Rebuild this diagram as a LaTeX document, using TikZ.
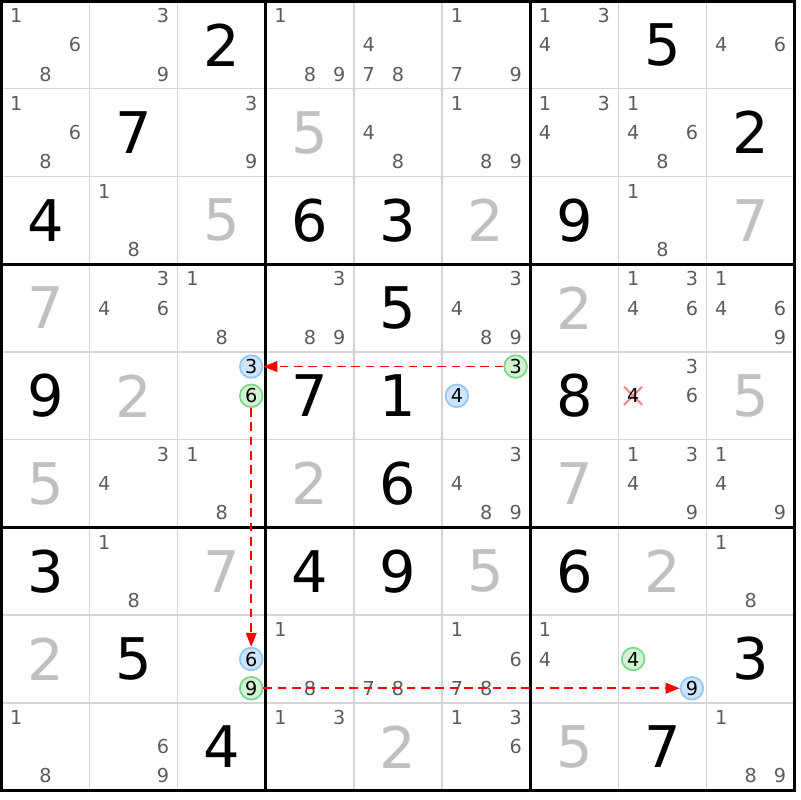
\documentclass[tikz,border=0pt]{standalone}
\usepackage{fontspec}
\setmainfont{DejaVu Sans}
\usetikzlibrary{arrows.meta,shapes.misc}
\definecolor{gridgray}{RGB}{212,212,212}
\definecolor{solvedgray}{RGB}{192,192,192}
\definecolor{candgray}{RGB}{92,92,92}
\definecolor{onfill}{RGB}{205,229,250}
\definecolor{onedge}{RGB}{150,200,245}
\definecolor{offfill}{RGB}{212,242,212}
\definecolor{offedge}{RGB}{125,215,140}
\definecolor{elimred}{RGB}{242,140,140}
\begin{document}
\begin{tikzpicture}

    \tikzset{
      thinline/.style={gridgray, line width=1.2pt},
      thickline/.style={black, line width=2.6pt, line cap=rect},
      given/.style={inner sep=0pt, font=\fontsize{49}{49}\selectfont, text=black},
      solved/.style={given, text=solvedgray},
      cand/.style={inner sep=0pt, font=\fontsize{16.4}{16.4}\selectfont, text=candgray},
      oncand/.style={cand, text=black, circle, draw=onedge, fill=onfill,
        line width=1.5pt, minimum size=0.68cm},
      offcand/.style={oncand, draw=offedge, fill=offfill},
      elim/.style={draw=elimred, line width=1.8pt, cross out,
        inner sep=0pt, minimum width=0.48cm, minimum height=0.48cm},
      link/.style={red, line width=1.5pt, dash pattern=on 0.26cm off 0.17cm,
        -{Triangle[length=0.42cm,width=0.32cm]}},
    }
    \useasboundingbox (0,0) rectangle (24,-24);
    \begin{scope}[shift={(0.045,-0.03)}, x=2.644cm, y=-2.632cm]

    \foreach \i in {1,2,4,5,7,8} {
      \draw[thinline] (\i,0) -- (\i,9);
      \draw[thinline] (0,\i) -- (9,\i);
    }
    \foreach \i in {3,6} {
      \draw[thickline] (\i,0) -- (\i,9);
      \draw[thickline] (0,\i) -- (9,\i);
    }
    \draw[thickline] (0,0) rectangle (9,9);

    % placed digits
    \foreach \r/\c/\d in {1/3/2,1/8/5,2/2/7,2/9/2,3/1/4,3/4/6,3/5/3,3/7/9,
        4/5/5,5/1/9,5/4/7,5/5/1,5/7/8,6/5/6,7/1/3,7/4/4,7/5/9,7/7/6,
        8/2/5,8/9/3,9/3/4,9/8/7}
      \node[given] (cell-\r-\c) at (\c-0.5,\r-0.5) {\d};
    \foreach \r/\c/\d in {2/4/5,3/3/5,3/6/2,3/9/7,4/1/7,4/7/2,5/2/2,5/9/5,
        6/1/5,6/4/2,6/7/7,7/3/7,7/6/5,7/8/2,8/1/2,9/5/2,9/7/5}
      \node[solved] (cell-\r-\c) at (\c-0.5,\r-0.5) {\d};

    % pencil marks
    \foreach \r/\c/\ds in {1/1/{1,6,8},1/2/{3,9},1/4/{1,8,9},1/5/{4,7,8},
        1/6/{1,7,9},1/7/{1,3,4},1/9/{4,6},
        2/1/{1,6,8},2/3/{3,9},2/5/{4,8},2/6/{1,8,9},2/7/{1,3,4},2/8/{1,4,6,8},
        3/2/{1,8},3/8/{1,8},
        4/2/{3,4,6},4/3/{1,8},4/4/{3,8,9},4/6/{3,4,8,9},4/8/{1,3,4,6},4/9/{1,4,6,9},
        5/8/{3,6},
        6/2/{3,4},6/3/{1,8},6/6/{3,4,8,9},6/8/{1,3,4,9},6/9/{1,4,9},
        7/2/{1,8},7/9/{1,8},
        8/4/{1,8},8/5/{7,8},8/6/{1,6,7,8},8/7/{1,4},
        9/1/{1,8},9/2/{6,9},9/4/{1,3},9/6/{1,3,6},9/9/{1,8,9}}
      \foreach \d in \ds {
        \pgfmathsetmacro\px{\c-1+(2*mod(\d-1,3)+1)/6}
        \pgfmathsetmacro\py{\r-1+(2*floor((\d-1)/3)+1)/6}
        \node[cand] (cand-\r-\c-\d) at (\px,\py) {\d};
      }

    \node[elim] (cross-5-8-4) at (7+1/6,4.5) {};
    \node[cand, text=black] (cand-5-8-4) at (7+1/6,4.5) {4};

    \node[oncand] (cand-5-3-3) at (2+5/6,4+1/6) {3};
    \node[offcand] (cand-5-3-6) at (2+5/6,4.5) {6};
    \node[offcand] (cand-5-6-3) at (5+5/6,4+1/6) {3};
    \node[oncand] (cand-5-6-4) at (5+1/6,4.5) {4};
    \node[oncand] (cand-8-3-6) at (2+5/6,7.5) {6};
    \node[offcand] (cand-8-3-9) at (2+5/6,7+5/6) {9};
    \node[offcand] (cand-8-8-4) at (7+1/6,7.5) {4};
    \node[oncand] (cand-8-8-9) at (7+5/6,7+5/6) {9};

    \draw[link] (cand-5-6-3) -- (cand-5-3-3);
    \draw[link] (cand-5-3-6) -- (cand-8-3-6);
    \draw[link] (cand-8-3-9) -- (cand-8-8-9);

    \end{scope}

\end{tikzpicture}
\end{document}
